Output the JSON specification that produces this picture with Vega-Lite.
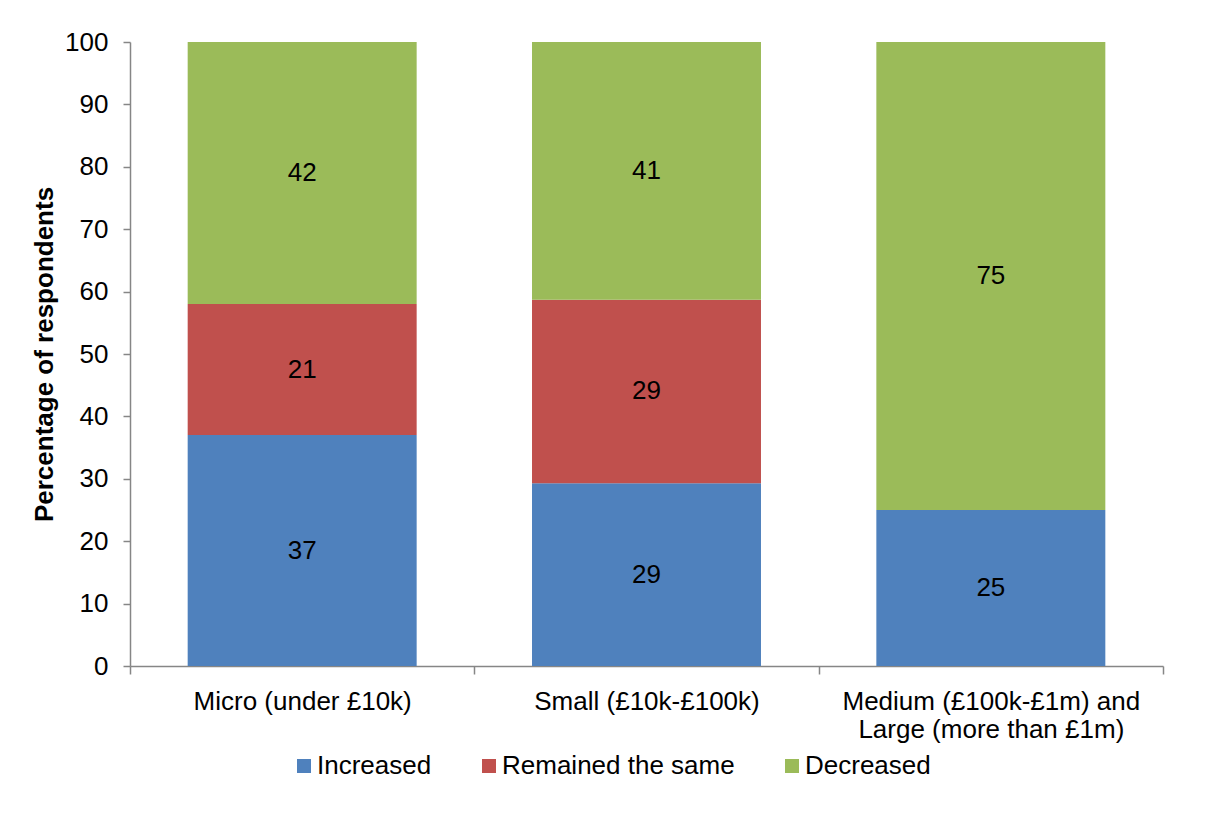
{
  "$schema": "https://vega.github.io/schema/vega-lite/v6.json",
  "autosize": {"type": "none"},
  "width": 1033,
  "height": 624,
  "padding": {"left": 130, "top": 42, "right": 50, "bottom": 148},
  "background": "white",
  "config": {
    "font": "Liberation Sans",
    "view": {"stroke": null},
    "axis": {
      "grid": false,
      "domainColor": "#868686",
      "domainWidth": 1.5,
      "tickColor": "#868686",
      "tickWidth": 1.5,
      "labelColor": "#000000",
      "labelFontSize": 26,
      "labelLimit": 0,
      "titleColor": "#000000"
    }
  },
  "data": {
    "values": [
      {"size": "Micro (under £10k)", "response": "Increased", "ro": 1, "pct": 37},
      {"size": "Micro (under £10k)", "response": "Remained the same", "ro": 2, "pct": 21},
      {"size": "Micro (under £10k)", "response": "Decreased", "ro": 3, "pct": 42},
      {"size": "Small (£10k-£100k)", "response": "Increased", "ro": 1, "pct": 29.3},
      {"size": "Small (£10k-£100k)", "response": "Remained the same", "ro": 2, "pct": 29.4},
      {"size": "Small (£10k-£100k)", "response": "Decreased", "ro": 3, "pct": 41.3},
      {"size": "Medium (£100k-£1m) and|Large (more than £1m)", "response": "Increased", "ro": 1, "pct": 25},
      {"size": "Medium (£100k-£1m) and|Large (more than £1m)", "response": "Decreased", "ro": 3, "pct": 75}
    ]
  },
  "encoding": {
    "x": {
      "field": "size",
      "type": "nominal",
      "sort": null,
      "scale": {"paddingInner": 0, "paddingOuter": 0},
      "axis": {
        "title": null,
        "labelAngle": 0,
        "labelExpr": "split(datum.label, '|')",
        "labelLineHeight": 28,
        "labelPadding": 14,
        "labelLimit": 0,
        "tickBand": "extent",
        "tickSize": 8
      }
    },
    "y": {
      "field": "pct",
      "type": "quantitative",
      "stack": "zero",
      "scale": {"domain": [0, 100], "nice": false},
      "axis": {
        "title": "Percentage of respondents",
        "titleFontSize": 26,
        "titleFontWeight": "bold",
        "titlePadding": 7,
        "values": [0, 10, 20, 30, 40, 50, 60, 70, 80, 90, 100],
        "tickSize": 7,
        "labelPadding": 15
      }
    },
    "order": {"field": "ro", "type": "quantitative"}
  },
  "layer": [
    {
      "mark": {"type": "bar", "width": {"band": 0.665}},
      "encoding": {
        "color": {
          "field": "response",
          "type": "nominal",
          "scale": {
            "domain": ["Increased", "Remained the same", "Decreased"],
            "range": ["#4F81BD", "#C0504D", "#9BBB59"]
          },
          "legend": {
            "title": null,
            "orient": "none",
            "direction": "horizontal",
            "legendX": 161,
            "legendY": 711,
            "symbolType": "square",
            "symbolSize": 196,
            "symbolStrokeWidth": 0,
            "labelFontSize": 26,
            "labelLimit": 0,
            "labelColor": "#000000",
            "labelOffset": 0,
            "columnPadding": 44
          }
        }
      }
    },
    {
      "mark": {"type": "text", "fontSize": 26, "color": "#000000"},
      "encoding": {
        "y": {"field": "pct", "type": "quantitative", "stack": "zero", "bandPosition": 0.5},
        "detail": {"field": "response"},
        "text": {"field": "pct", "type": "quantitative", "format": ".0f"}
      }
    }
  ]
}
